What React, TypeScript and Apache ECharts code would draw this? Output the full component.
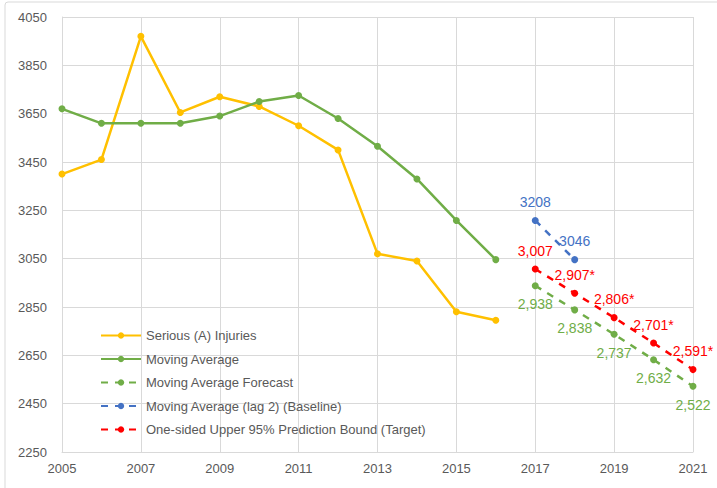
import React, { useEffect, useRef } from "react";
import * as echarts from "echarts";

const years = ["2005","2006","2007","2008","2009","2010","2011","2012","2013","2014","2015","2016","2017","2018","2019","2020","2021"];
const seriousInjuries = [3400, 3460, 3970, 3655, 3720, 3680, 3600, 3500, 3070, 3040, 2830, 2795, null, null, null, null, null];
const movingAverage = [3670, 3610, 3610, 3610, 3640, 3700, 3725, 3630, 3515, 3380, 3208, 3046, null, null, null, null, null];
const maForecast = [null, null, null, null, null, null, null, null, null, null, null, null, 2938, 2838, 2737, 2632, 2522];
const maBaseline = [null, null, null, null, null, null, null, null, null, null, null, null, 3208, 3046, null, null, null];
const upperBound = [null, null, null, null, null, null, null, null, null, null, null, null, 3007, 2907, 2806, 2701, 2591];
const upperBoundStar = [false, false, false, false, false, false, false, false, false, false, false, false, false, true, true, true, true];

const seriesNames = [
  "Serious (A) Injuries",
  "Moving Average",
  "Moving Average Forecast",
  "Moving Average (lag 2) (Baseline)",
  "One-sided Upper 95% Prediction Bound (Target)",
];

const yMin = 2250;
const yMax = 4050;
const yStep = 200;

const FONT = "Liberation Sans";
const GRID_COLOR = "#D9D9D9";
const TEXT_COLOR = "#595959";

const fmtComma = (v: number) => v.toLocaleString("en-US");

export default function App() {
  const ref = useRef<HTMLDivElement>(null);
  useEffect(() => {
    if (!ref.current) return;
    const chart = echarts.init(ref.current, undefined, { renderer: "svg" });
    const dashed = [7, 7];
    const option: any = {
      animation: false,
      backgroundColor: "#fff",
      textStyle: { fontFamily: FONT },
      graphic: [
        {
          type: "rect",
          shape: { x: 5, y: 2, width: 730, height: 510, r: 3 },
          style: { fill: "none", stroke: GRID_COLOR, lineWidth: 1 },
          silent: true,
          z: -1,
        },
      ],
      grid: { left: 62, right: 24, top: 17, bottom: 36, containLabel: false },
      legend: {
        orient: "vertical",
        left: 100,
        top: 329,
        itemWidth: 40,
        itemHeight: 8,
        itemGap: 10.5,
        data: seriesNames,
        textStyle: { color: TEXT_COLOR, fontSize: 13, fontFamily: FONT },
        padding: 0,
      },
      xAxis: {
        type: "category",
        data: years,
        boundaryGap: false,
        axisLine: { lineStyle: { color: GRID_COLOR, width: 1 } },
        axisTick: { show: false },
        axisLabel: { interval: 1, color: TEXT_COLOR, fontSize: 13, margin: 10, fontFamily: FONT },
        splitLine: { show: true, interval: 1, lineStyle: { color: GRID_COLOR, width: 1 } },
      },
      yAxis: [
        {
          type: "value",
          min: yMin,
          max: yMax,
          show: false,
          splitLine: { show: false },
        },
        {
          type: "value",
          position: "left",
          min: 0,
          max: yMax - yMin,
          interval: yStep,
          axisLine: { show: true, lineStyle: { color: GRID_COLOR } },
          axisTick: { show: false },
          axisLabel: {
            color: TEXT_COLOR,
            fontSize: 13,
            margin: 15,
            fontFamily: FONT,
            formatter: (v: number) => String(v + yMin),
          },
          splitLine: { show: true, lineStyle: { color: GRID_COLOR, width: 1 } },
        },
      ],
      series: [
        {
          name: seriesNames[0],
          type: "line",
          yAxisIndex: 0,
          data: seriousInjuries,
          color: "#FFC000",
          symbol: "circle",
          symbolSize: 7,
          lineStyle: { width: 2.5, color: "#FFC000" },
          itemStyle: { color: "#FFC000" },
          z: 3,
        },
        {
          name: seriesNames[1],
          type: "line",
          yAxisIndex: 0,
          data: movingAverage,
          color: "#70AD47",
          symbol: "circle",
          symbolSize: 7,
          lineStyle: { width: 2.5, color: "#70AD47" },
          itemStyle: { color: "#70AD47" },
          z: 4,
        },
        {
          name: seriesNames[2],
          type: "line",
          yAxisIndex: 0,
          data: maForecast,
          color: "#70AD47",
          symbol: "circle",
          symbolSize: 7,
          lineStyle: { width: 2.5, color: "#70AD47", type: dashed },
          itemStyle: { color: "#70AD47" },
          label: {
            show: true,
            position: "bottom",
            distance: 8,
            color: "#70AD47",
            fontSize: 14,
            fontFamily: FONT,
            formatter: (p: any) => fmtComma(p.value),
          },
          z: 4,
        },
        {
          name: seriesNames[3],
          type: "line",
          yAxisIndex: 0,
          data: maBaseline,
          color: "#4472C4",
          symbol: "circle",
          symbolSize: 7,
          lineStyle: { width: 2.5, color: "#4472C4", type: dashed },
          itemStyle: { color: "#4472C4" },
          label: {
            show: true,
            position: "top",
            distance: 8,
            color: "#4472C4",
            fontSize: 14,
            fontFamily: FONT,
            formatter: (p: any) => String(p.value),
          },
          z: 4,
        },
        {
          name: seriesNames[4],
          type: "line",
          yAxisIndex: 0,
          data: upperBound,
          color: "#FF0000",
          symbol: "circle",
          symbolSize: 7,
          lineStyle: { width: 2.5, color: "#FF0000", type: dashed },
          itemStyle: { color: "#FF0000" },
          label: {
            show: true,
            position: "top",
            distance: 8,
            color: "#FF0000",
            fontSize: 14,
            fontFamily: FONT,
            formatter: (p: any) => fmtComma(p.value) + (upperBoundStar[p.dataIndex] ? "*" : ""),
          },
          z: 5,
        },
      ],
    };
    chart.setOption(option);
    return () => chart.dispose();
  }, []);
  return (
    <div
      ref={ref}
      style={{ position: "fixed", left: 0, top: 0, width: 717, height: 488 }}
    />
  );
}
